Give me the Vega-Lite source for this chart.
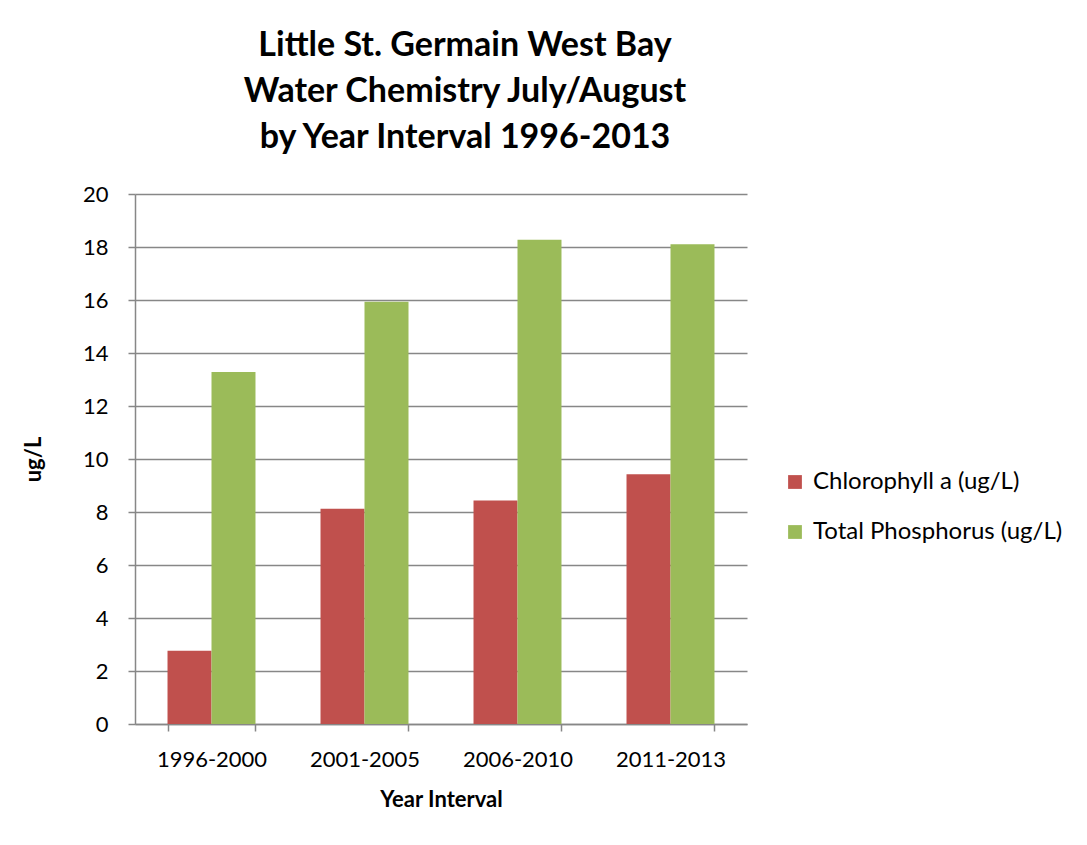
{
  "$schema": "https://vega.github.io/schema/vega-lite/v6.json",
  "width": 612,
  "height": 530,
  "autosize": {"type": "none"},
  "padding": {"left": 135, "top": 194, "right": 340, "bottom": 121},
  "background": "white",
  "title": {
    "text": ["Little St. Germain West Bay", "Water Chemistry July/August", "by Year Interval 1996-2013"],
    "anchor": "middle",
    "frame": "group",
    "dx": 24,
    "offset": 28,
    "font": "Lato",
    "fontSize": 34,
    "fontWeight": "bold",
    "lineHeight": 46,
    "color": "#000000"
  },
  "data": {
    "values": [
      {"interval": "1996-2000", "series": "Chlorophyll a (ug/L)", "value": 2.76},
      {"interval": "1996-2000", "series": "Total Phosphorus (ug/L)", "value": 13.28},
      {"interval": "2001-2005", "series": "Chlorophyll a (ug/L)", "value": 8.12},
      {"interval": "2001-2005", "series": "Total Phosphorus (ug/L)", "value": 15.93},
      {"interval": "2006-2010", "series": "Chlorophyll a (ug/L)", "value": 8.43},
      {"interval": "2006-2010", "series": "Total Phosphorus (ug/L)", "value": 18.27},
      {"interval": "2011-2013", "series": "Chlorophyll a (ug/L)", "value": 9.42},
      {"interval": "2011-2013", "series": "Total Phosphorus (ug/L)", "value": 18.1}
    ]
  },
  "mark": {"type": "bar"},
  "encoding": {
    "x": {
      "field": "interval",
      "type": "nominal",
      "title": "Year Interval",
      "scale": {"paddingInner": 0.425, "paddingOuter": 0.2125},
      "axis": {
        "labelAngle": 0,
        "labelFont": "Lato",
        "labelFontSize": 22,
        "labelColor": "#000000",
        "labelPadding": 18,
        "titleFont": "Lato",
        "titleFontSize": 22,
        "titleFontWeight": "bold",
        "titleColor": "#000000",
        "titlePadding": 19,
        "domainColor": "#878787",
        "domainWidth": 1.5,
        "tickColor": "#878787",
        "tickWidth": 1.5,
        "tickSize": 7,
        "tickBand": "extent",
        "grid": false
      }
    },
    "xOffset": {"field": "series", "type": "nominal"},
    "y": {
      "field": "value",
      "type": "quantitative",
      "title": "ug/L",
      "scale": {"domain": [0, 20], "nice": false},
      "axis": {
        "values": [0, 2, 4, 6, 8, 10, 12, 14, 16, 18, 20],
        "labelFont": "Lato",
        "labelFontSize": 22,
        "labelColor": "#000000",
        "labelPadding": 20,
        "titleFont": "Lato",
        "titleFontSize": 22,
        "titleFontWeight": "bold",
        "titleColor": "#000000",
        "titlePadding": 37,
        "domainColor": "#878787",
        "domainWidth": 1.5,
        "tickColor": "#878787",
        "tickWidth": 1.5,
        "tickSize": 7,
        "grid": true,
        "gridColor": "#878787",
        "gridWidth": 1.5
      }
    },
    "color": {
      "field": "series",
      "type": "nominal",
      "scale": {
        "domain": ["Chlorophyll a (ug/L)", "Total Phosphorus (ug/L)"],
        "range": ["#C0504D", "#9BBB59"]
      },
      "legend": {
        "title": null,
        "orient": "none",
        "legendX": 648,
        "legendY": 276,
        "symbolType": "square",
        "symbolSize": 190,
        "symbolStrokeWidth": 0,
        "labelFont": "Lato",
        "labelFontSize": 24,
        "labelColor": "#000000",
        "labelOffset": 6,
        "rowPadding": 26,
        "labelLimit": 400
      }
    }
  },
  "config": {
    "view": {"stroke": null}
  }
}
